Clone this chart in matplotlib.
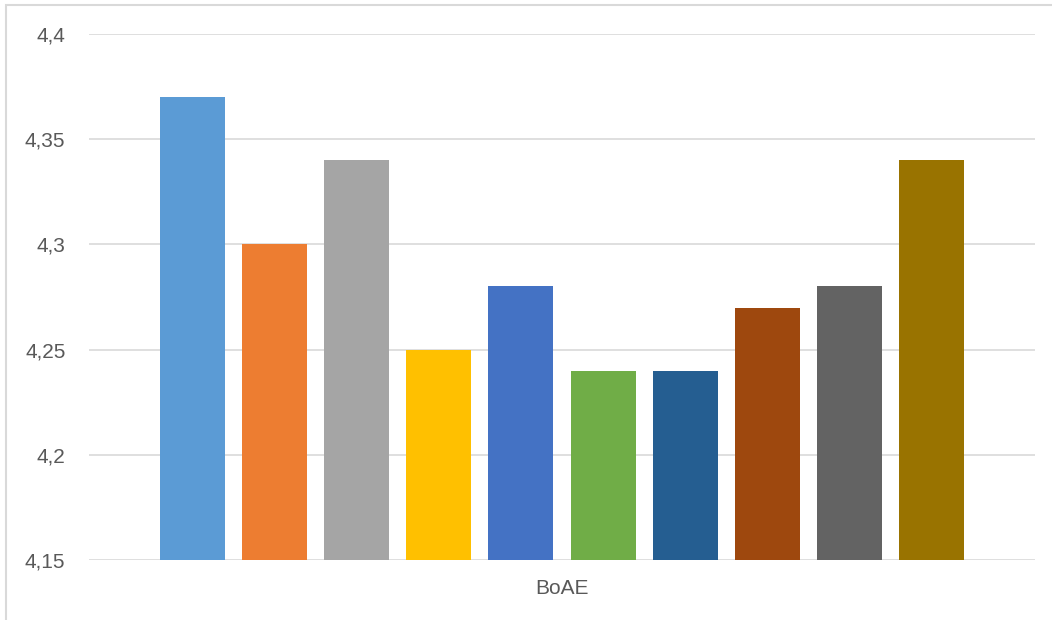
import matplotlib
matplotlib.use("Agg")
import matplotlib.pyplot as plt
from matplotlib.patches import Rectangle
from matplotlib.ticker import FuncFormatter, MultipleLocator

# BoAE-Werte je Reihe
category = "BoAE"
values = [4.37, 4.30, 4.34, 4.25, 4.28, 4.24, 4.24, 4.27, 4.28, 4.34]
colors = ["#5B9BD5", "#ED7D31", "#A5A5A5", "#FFC000", "#4472C4",
          "#70AD47", "#255E91", "#9E480E", "#636363", "#997300"]
y_min, y_max, y_step = 4.15, 4.4, 0.05

plt.rcParams["font.family"] = ["Liberation Sans", "DejaVu Sans"]

W, H = 1052, 620
fig = plt.figure(figsize=(W / 100, H / 100), dpi=100)
fig.patch.set_facecolor("white")

# Rahmen des Diagrammbereichs (rechts/unten abgeschnitten)
fig.add_artist(Rectangle((6 / W, -0.1), 1.2, 1 - 5 / H + 0.1,
                         transform=fig.transFigure, fill=False,
                         edgecolor="#D9D9D9", linewidth=1.5))

ax = fig.add_axes([89 / W, 1 - 560 / H, (1035 - 89) / W, (560 - 34) / H])

width = 0.79
xs = list(range(len(values)))
ax.bar(xs, [v - y_min for v in values], bottom=y_min, width=width,
       color=colors, zorder=3)

margin = 0.864
ax.set_xlim(xs[0] - width / 2 - margin, xs[-1] + width / 2 + margin)
ax.set_ylim(y_min, y_max)

ax.yaxis.set_major_locator(MultipleLocator(y_step))
ax.yaxis.set_major_formatter(FuncFormatter(lambda v, p: f"{v:g}".replace(".", ",")))
ax.grid(axis="y", color="#D9D9D9", linewidth=1.2, zorder=0)
ax.set_axisbelow(True)

for s in ax.spines.values():
    s.set_visible(False)
ax.tick_params(axis="y", length=0, pad=17, labelsize=15, labelcolor="#595959")
ax.set_xticks([(xs[0] + xs[-1]) / 2])
ax.set_xticklabels([category])
ax.tick_params(axis="x", length=0, pad=14, labelsize=15, labelcolor="#595959")

fig.savefig("out.png", dpi=100)
